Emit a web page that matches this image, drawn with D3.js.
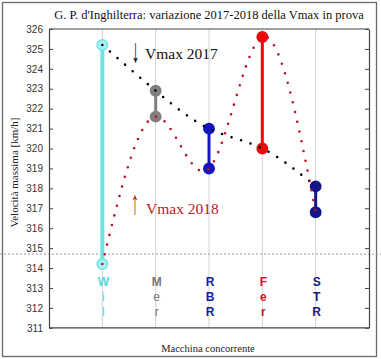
<!DOCTYPE html>
<html><head><meta charset="utf-8">
<script src="https://cdn.jsdelivr.net/npm/d3@7"></script>
<style>body{margin:0;background:#fff}svg{display:block}</style>
</head><body>
<svg id="c" width="381" height="359"></svg>
<script>
const categories = ["Wil", "Mer", "RBR", "Fer", "STR"];
const vmax2017 = [325.2, 322.9, 321.0, 320.0, 318.1];
const vmax2018 = [314.2, 321.6, 319.0, 325.6, 316.8];
const yTicks = [311,312,313,314,315,316,317,318,319,320,321,322,323,324,325,326];
const refValue = [314.7];
const teamColors = ["#6fe3e3", "#808080", "#1414c0", "#ee0a0a", "#14148c"];
const markerFill = ["#a6f2f2", "#808080", "#1414c0", "#ee0a0a", "#14148c"];
const labelColors = ["#55d8d8", "#777777", "#1a1aa0", "#e0102a", "#1a1a80"];

const svg = d3.select("#c");
const L = 49, R = 369, T = 29, B = 327.8;
const x = d3.scalePoint().domain(categories).range([L, R]).padding(1);
const y = d3.scaleLinear().domain([311, 326]).range([B, T]);
const serif = "'Liberation Serif', 'Times New Roman', serif";

// outer frame
svg.append("rect").attr("x", 2.5).attr("y", 2.5).attr("width", 374).attr("height", 354)
  .attr("fill", "none").attr("stroke", "#6a6a6a").attr("stroke-width", 1.3);

// gridlines
svg.append("g").selectAll("line").data(categories).join("line")
  .attr("x1", d => x(d)).attr("x2", d => x(d)).attr("y1", T).attr("y2", B)
  .attr("stroke", "#d2d2d2").attr("stroke-width", 1);

// reference dotted line
svg.append("g").selectAll("line").data(refValue).join("line")
  .attr("x1", 0).attr("x2", 381).attr("y1", d => y(d)).attr("y2", d => y(d))
  .attr("stroke", "#9a9a9a").attr("stroke-width", 1).attr("stroke-dasharray", "2 2");

// axes
const axL = svg.append("g").attr("transform", `translate(${L},0)`)
  .call(d3.axisLeft(y).tickValues(yTicks).tickFormat(d3.format("d")).tickSizeInner(-4).tickSizeOuter(0).tickPadding(6));
const axR = svg.append("g").attr("transform", `translate(${R},0)`)
  .call(d3.axisRight(y).tickValues(yTicks).tickSizeInner(-4).tickSizeOuter(0).tickFormat(""));
[axL, axR].forEach(a => {
  a.select(".domain").attr("stroke", "#444").attr("stroke-width", 1.2);
  a.selectAll(".tick line").attr("stroke", "#444");
});
axL.selectAll(".tick text").attr("font-family", "Arial, 'Liberation Sans', sans-serif")
  .attr("font-size", 10).attr("fill", "#333");
svg.append("line").attr("x1", L).attr("x2", R).attr("y1", T).attr("y2", T).attr("stroke", "#444").attr("stroke-width", 1.2);
svg.append("line").attr("x1", L).attr("x2", R).attr("y1", B).attr("y2", B).attr("stroke", "#444").attr("stroke-width", 1.2);

// vertical segments
svg.append("g").selectAll("line").data(categories).join("line")
  .attr("x1", d => x(d)).attr("x2", d => x(d))
  .attr("y1", (d, i) => y(vmax2017[i])).attr("y2", (d, i) => y(vmax2018[i]))
  .attr("stroke", (d, i) => teamColors[i]).attr("stroke-width", (d, i) => i === 0 ? 4 : 3);

// markers
const pts = [];
categories.forEach((c, i) => { pts.push({c, i, v: vmax2017[i]}); pts.push({c, i, v: vmax2018[i]}); });
svg.append("g").selectAll("circle").data(pts).join("circle")
  .attr("cx", d => x(d.c)).attr("cy", d => y(d.v)).attr("r", 5.2)
  .attr("fill", d => markerFill[d.i]).attr("stroke", d => teamColors[d.i]).attr("stroke-width", 1.5);

// dotted curves
const line = (vals) => d3.line().x((d, i) => x(categories[i])).y(d => y(d)).curve(d3.curveNatural)(vals);
svg.append("path").attr("d", line(vmax2017)).attr("fill", "none").attr("stroke", "#000")
  .attr("stroke-width", 2.6).attr("stroke-linecap", "round").attr("stroke-dasharray", "0 10");
svg.append("path").attr("d", line(vmax2018)).attr("fill", "none").attr("stroke", "#c0102c")
  .attr("stroke-width", 2.6).attr("stroke-linecap", "round").attr("stroke-dasharray", "0 10");

// category labels (stacked letters)
const lab = svg.append("g").attr("font-family", "Arial, 'Liberation Sans', sans-serif").attr("font-size", 12).attr("text-anchor", "middle");
categories.forEach((c, i) => {
  c.split("").forEach((ch, k) => {
    lab.append("text").attr("x", x(c) + 1).attr("y", 286 + k * 15).attr("fill", labelColors[i])
      .attr("font-weight", k === 0 || i >= 2 ? "bold" : "normal").text(ch);
  });
});

// annotations
svg.append("text").attr("transform", "translate(135.5,62) scale(0.5,1)").attr("text-anchor", "middle")
  .attr("font-family", serif).attr("font-size", 34).attr("fill", "#111").text("↓");
svg.append("text").attr("x", 145).attr("y", 58.5).attr("font-family", serif)
  .attr("font-size", 15.5).attr("fill", "#111").text("Vmax 2017");
svg.append("text").attr("transform", "translate(135,214) scale(0.5,1)").attr("text-anchor", "middle")
  .attr("font-family", serif).attr("font-size", 34).attr("fill", "#b8202c").text("↑");
svg.append("text").attr("x", 146).attr("y", 213.5).attr("font-family", serif)
  .attr("font-size", 15.5).attr("fill", "#b8202c").text("Vmax 2018");

// title & axis titles
svg.append("text").attr("x", 209).attr("y", 18.5).attr("text-anchor", "middle")
  .attr("font-family", serif).attr("font-size", 12.5).attr("fill", "#111")
  .text("G. P. d'Inghilterra: variazione 2017-2018 della Vmax in prova");
svg.append("text").attr("x", 208).attr("y", 351.5).attr("text-anchor", "middle")
  .attr("font-family", serif).attr("font-size", 10.5).attr("fill", "#222")
  .text("Macchina concorrente");
svg.append("text").attr("transform", "translate(18,172.5) rotate(-90)").attr("text-anchor", "middle")
  .attr("font-family", serif).attr("font-size", 11).attr("fill", "#222")
  .text("Velocità massima [km/h]");
</script>
</body></html>
